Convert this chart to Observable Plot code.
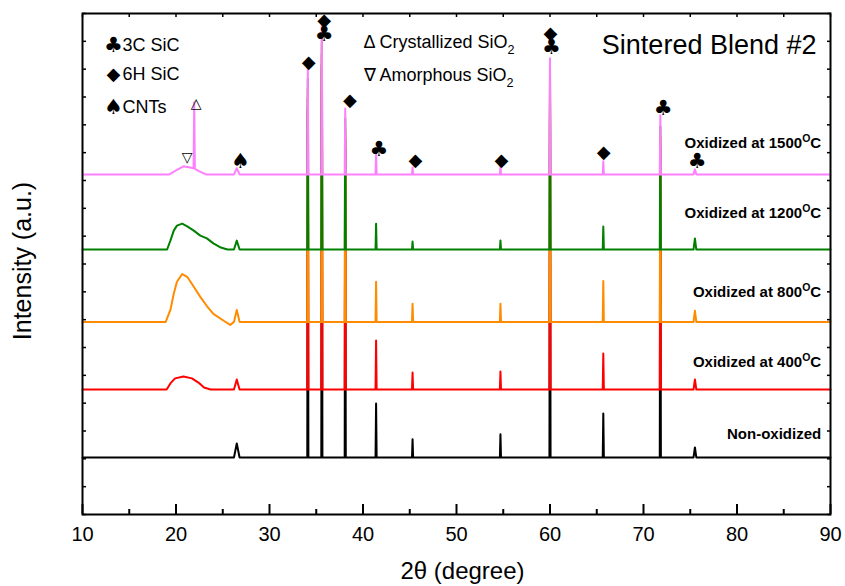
<!DOCTYPE html>
<html><head><meta charset="utf-8">
<script src="https://cdn.jsdelivr.net/npm/d3@7"></script>
<script src="https://cdn.jsdelivr.net/npm/@observablehq/plot@0.6"></script>
<style>
body{margin:0;background:#fff}
#chart svg{font-family:"Liberation Sans",Arial,sans-serif;overflow:visible}
</style>
</head><body><div id="chart"></div>
<script>
// ---- data (2θ in degrees, intensity in arbitrary counts) ----
const seriesNames = ["Non-oxidized", "Oxidized at 400^OC", "Oxidized at 800^OC", "Oxidized at 1200^OC", "Oxidized at 1500^OC"];
const seriesColors = ["#000000", "#ff0000", "#ff8c00", "#008000", "#ff80ff"];
const baselines = [205, 449, 692, 952, 1222];
const labelY = [290, 547, 799, 1081, 1333];

const peakPositions  = [26.5, 34.1, 35.6, 38.1, 41.4, 45.3, 54.7, 60.0, 65.7, 71.8, 75.5];
const peakHalfWidths = [0.3, 0.06, 0.06, 0.06, 0.06, 0.06, 0.06, 0.06, 0.06, 0.06, 0.15];
const heightsNon  = [50, 1254, 1412, 1110, 194, 65, 83, 1290, 158, 1081, 36];
const heights400  = [36, 1046, 1204, 902, 176, 61, 65, 1082, 129, 873, 36];
const heights800  = [43, 839, 997, 695, 144, 65, 65, 875, 147, 667, 40];
const heights1200 = [32, 614, 772, 471, 93, 29, 32, 650, 83, 442, 40];
const heights1500 = [22, 381, 539, 237, 72, 25, 29, 417, 47, 212, 18];

// broad amorphous SiO2 hump (and crystallized SiO2 line for 1500 °C)
const humpNon  = [];
const hump400  = [[19.0,0],[19.4,22],[19.9,40],[20.8,47],[21.7,40],[22.4,25],[23.0,7],[23.7,0]];
const hump800  = [[18.9,0],[19.4,43],[19.76,101],[20.1,144],[20.66,172],[21.2,162],[21.9,126],[22.6,90],[23.3,57],[24.0,29],[25.1,4],[25.8,-11]];
const hump1200 = [[19.05,0],[19.4,32],[19.76,68],[20.1,86],[20.66,93],[21.2,83],[21.9,68],[22.6,50],[23.3,40],[24.0,22],[24.8,7],[25.5,0]];
const hump1500 = [[19.3,0],[20.0,14],[20.8,29],[21.5,25],[21.88,22],[21.95,259],[22.02,20],[22.5,11],[23.2,0]];

// phase markers
const markerSymbols = ["◆","◆","♣","◆","♣","◆","◆","◆","♣","◆","♣","♣","♠","△","▽"];
const markerX = [34.2, 35.85, 35.85, 38.59, 41.69, 45.61, 54.81, 60.05, 60.16, 65.75, 72.11, 75.74, 26.9, 22.16, 21.2];
const markerY = [1624, 1775, 1725, 1490, 1314, 1272, 1272, 1728, 1679, 1302, 1458, 1268, 1268, 1476, 1282];

const legendLeftSymbols = ["♣", "◆", "♠"];
const legendLeftText = ["3C SiC", "6H SiC", "CNTs"];
const legendMid = ["Δ Crystallized SiO_2", "∇ Amorphous SiO_2"];
const title = "Sintered Blend #2";
const xTicksMajor = [10, 20, 30, 40, 50, 60, 70, 80, 90];
const xTicksMinor = [15, 25, 35, 45, 55, 65, 75, 85];
const yTicks = d3.range(0, 1801, 100);

// ---- build line tables ----
const allHeights = [heightsNon, heights400, heights800, heights1200, heights1500];
const allHumps = [humpNon, hump400, hump800, hump1200, hump1500];
function buildSeries(i) {
  const base = baselines[i];
  const pts = [[10, 0], [90, 0]];
  allHumps[i].forEach(p => pts.push(p));
  peakPositions.forEach((p, k) => {
    const w = peakHalfWidths[k];
    pts.push([p - w, 0], [p, allHeights[i][k]], [p + w, 0]);
  });
  pts.sort((a, b) => a[0] - b[0]);
  return pts.map(([x, y]) => ({x, y: base + y}));
}

const lineMarks = seriesNames.map((name, i) =>
  Plot.line(buildSeries(i), {x: "x", y: "y", stroke: seriesColors[i], strokeWidth: 2, strokeLinejoin: "round"}));

const markers = markerSymbols.map((s, i) => ({s, x: markerX[i], y: markerY[i]}));
const symSize = s => (s === "♣" || s === "♠") ? 21 : (s === "◆" ? 18 : 14);

const labels = seriesNames.map((name, i) => ({name, y: labelY[i]}));
const legendDy = [32, 61, 94];

const chart = Plot.plot({
  width: 845, height: 586,
  marginLeft: 82, marginRight: 15, marginTop: 13, marginBottom: 72,
  x: {domain: [10, 90]},
  y: {domain: [0, 1800]},
  marks: [
    ...lineMarks,
    Plot.text(markers, {x: "x", y: "y", text: "s", fontSize: d => symSize(d.s), fill: "black",
      fontFamily: "DejaVu Sans", lineAnchor: "middle", textAnchor: "middle"}),
    Plot.text(labels, {x: 89.0, y: "y", text: "name", textAnchor: "end", lineAnchor: "middle",
      fontSize: 15, fontWeight: "bold", fill: "black", letterSpacing: "-0.3px"}),
    ...legendLeftSymbols.map((t, i) => Plot.text([t], {text: d => d, frameAnchor: "top-left", dx: 31, dy: legendDy[i],
      lineAnchor: "middle", textAnchor: "middle", fontSize: symSize(t), fontFamily: "DejaVu Sans", fill: "black"})),
    ...legendLeftText.map((t, i) => Plot.text([t], {text: d => d, frameAnchor: "top-left", dx: 40, dy: legendDy[i],
      lineAnchor: "middle", textAnchor: "start", fontSize: 18, fill: "black", letterSpacing: "-0.4px"})),
    ...legendMid.map((t, i) => Plot.text([t], {text: d => d, frameAnchor: "top-left", dx: 281, dy: [29, 62][i],
      lineAnchor: "middle", textAnchor: "start", fontSize: 18, fill: "black", letterSpacing: "-0.4px"})),
    Plot.text([title], {text: d => d, frameAnchor: "top-right", dx: -14, dy: 32, lineAnchor: "middle",
      textAnchor: "end", fontSize: 27, fill: "black"}),
    Plot.text(["2θ (degree)"], {text: d => d, frameAnchor: "bottom", dx: 6, dy: 57, lineAnchor: "middle",
      textAnchor: "middle", fontSize: 24, fill: "black"}),
    Plot.text(["Intensity (a.u.)"], {text: d => d, frameAnchor: "left", dx: -60, dy: -3, rotate: -90,
      lineAnchor: "middle", textAnchor: "middle", fontSize: 25, fill: "black"}),
    Plot.axisX({ticks: xTicksMajor, tickSize: -10, tickFormat: () => "", label: null, strokeWidth: 2}),
    Plot.axisX({ticks: xTicksMinor, tickSize: -5, tickFormat: () => "", label: null, strokeWidth: 2}),
    Plot.axisX({ticks: xTicksMajor, tickSize: 0, tickPadding: 12, fontSize: 20, label: null, color: "black"}),
    Plot.axisX({anchor: "top", ticks: [...xTicksMajor, ...xTicksMinor], tickSize: -3, tickFormat: () => "", label: null, strokeWidth: 1.5}),
    Plot.axisY({ticks: yTicks, tickSize: -4, tickFormat: () => "", label: null, strokeWidth: 1.5}),
    Plot.axisY({anchor: "right", ticks: yTicks, tickSize: -4, tickFormat: () => "", label: null, strokeWidth: 1.5}),
    Plot.frame({stroke: "black", strokeWidth: 2})
  ]
});

// rich text: ^X superscript, _X subscript
chart.querySelectorAll("text").forEach(t => {
  const s = t.textContent;
  if (!/[\^_]/.test(s)) return;
  const fs = parseFloat(t.getAttribute("font-size")) || parseFloat(t.parentNode.getAttribute("font-size")) || 15;
  while (t.firstChild) t.removeChild(t.firstChild);
  const re = /([\^_])(.)/g;
  let last = 0, m;
  const NS = "http://www.w3.org/2000/svg";
  const add = (txt, attrs) => {
    const ts = document.createElementNS(NS, "tspan");
    ts.textContent = txt;
    for (const k in attrs) ts.setAttribute(k, attrs[k]);
    t.appendChild(ts);
  };
  let pendingDy = 0;
  while ((m = re.exec(s))) {
    if (m.index > last) { add(s.slice(last, m.index), pendingDy ? {dy: pendingDy} : {}); pendingDy = 0; }
    const shift = m[1] === "^" ? -0.42 * fs : 0.3 * fs;
    add(m[2], {dy: shift + pendingDy, "font-size": (0.7 * fs) + "px"});
    pendingDy = -shift;
    last = m.index + m[0].length;
  }
  if (last < s.length) add(s.slice(last), pendingDy ? {dy: pendingDy} : {});
});

document.getElementById("chart").appendChild(chart);
</script>
</body></html>
